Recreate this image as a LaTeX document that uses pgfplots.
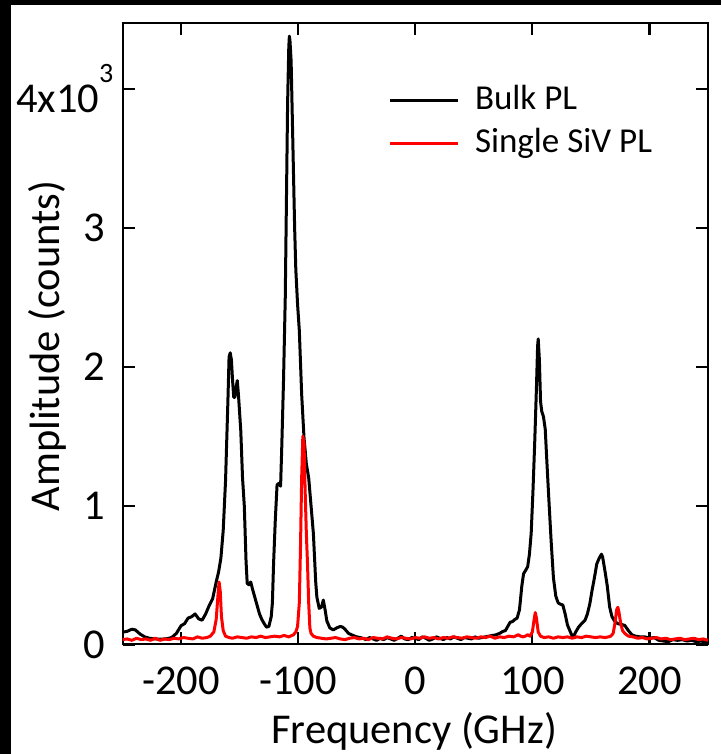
\documentclass[border=0pt]{standalone}
\usepackage{pgfplots}
\pgfplotsset{compat=1.18}
\usepackage{fontspec}
\setmainfont{Carlito}
\begin{document}
\begin{tikzpicture}[x=1pt,y=1pt]
\fill[black] (0,0) rectangle (721,754);
\fill[white] (11,0) rectangle (721,749);
\begin{axis}[
  at={(122.5pt,109.5pt)}, anchor=south west,
  scale only axis, width=585.5pt, height=621.8pt,
  xmin=-250, xmax=250, ymin=0, ymax=4477,
  axis line style={line width=2pt},
  tick align=inside, tick pos=both,
  major tick length=12pt,
  every tick/.style={line width=2.2pt, black},
  xtick={-200,-100,0,100,200},
  xticklabels={-200,-100,0,100,200},
  ytick={0,1000,2000,3000,4000},
  yticklabels={0,1,2,3,{4x10\raisebox{30pt}{\fontsize{28}{28}\selectfont 3}\hspace*{-8pt}}},
  tick label style={font=\fontsize{42.5}{50}\selectfont, inner sep=0pt},
  xticklabel style={yshift=-22.5pt},
  yticklabel style={xshift=-17pt},
  scaled y ticks=false,
  xlabel={Frequency (GHz)},
  ylabel={Amplitude (counts)},
  label style={font=\fontsize{42.5}{50}\selectfont, inner sep=0pt},
  xlabel style={at={(axis description cs:0.498,-0.16)}, anchor=base},
  ylabel style={at={(axis description cs:-0.107,0.48)}, anchor=base},
  legend style={draw=none, fill=none, font=\fontsize{35}{42}\selectfont,
    at={(axis description cs:0.4535,0.903)}, anchor=north west,
    inner sep=0pt, outer sep=0pt, row sep=8pt, column sep=16pt,
    nodes={inner sep=0pt, text height=26pt, text depth=9pt}},
  legend cell align=left,
  legend image code/.code={\draw[#1, line width=3pt] (0pt,0pt) -- (68pt,0pt);},
  clip=true,
]
\addplot[black, line width=3pt, line join=round] coordinates {
(-250,88)(-246,95)(-242,110)(-239,105)(-235,75)(-231,55)(-227,45)(-222,40)(-217,38)(-212,42)
(-208,50)(-204,80)(-200,135)(-197,150)(-194,190)(-191,200)(-188,220)(-185,185)(-182,175)(-179,220)
(-176,280)(-173,330)(-170,450)(-168,520)(-166,620)(-164,820)(-162,1180)(-160,1750)(-159,2070)(-158,2100)
(-157,2050)(-156,1900)(-155,1780)(-154,1780)(-153,1850)(-152,1900)(-151,1800)(-149,1540)(-147.5,1200)(-146,1000)
(-144.5,600)(-143.5,440)(-142,430)(-140.5,450)(-139,400)(-137,340)(-135,280)(-133,220)(-131,180)(-129,150)
(-127,125)(-125,130)(-123,200)(-122,300)(-121,580)(-119.5,900)(-118,1150)(-116.5,1160)(-115,1140)(-114,1420)
(-112.5,1900)(-111,2500)(-110,3200)(-109,3900)(-108,4300)(-107.5,4380)(-107,4350)(-106,4200)(-105,3800)(-104,3400)
(-103,3000)(-102,2700)(-100.5,2450)(-99,2260)(-97,1800)(-95,1490)(-93,1300)(-91,1200)(-89,1000)(-87,800)
(-85,450)(-84,340)(-82,260)(-80,270)(-78.5,320)(-77,250)(-75.5,170)(-73,120)(-70,105)(-67,120)
(-64,130)(-62,125)(-60,110)(-57,80)(-53,65)(-50,55)(-47,50)(-45,45)(-42,35)(-39,50)
(-36,40)(-33,30)(-30,45)(-27,35)(-24,50)(-21,40)(-18,30)(-15,45)(-12,60)(-9,40)
(-6,35)(-3,50)(0,45)(3,35)(6,55)(9,45)(12,30)(15,40)(18,55)(21,45)
(24,35)(27,50)(30,40)(33,55)(36,45)(39,35)(42,50)(45,45)(48,40)(51,55)
(54,45)(57,50)(60,55)(63,60)(66,65)(69,70)(72,80)(75,95)(77,100)(79,130)
(81,160)(83,165)(85,180)(87,190)(89,250)(91,420)(92.5,510)(94,530)(96,560)(97.5,650)
(99,800)(100.5,1100)(102,1450)(103.5,1850)(104.5,2150)(105,2200)(106,2050)(107,1750)(108,1680)(109.5,1640)
(111,1550)(112.5,1300)(114,1060)(116,750)(118,480)(120,350)(122,300)(124,290)(126,285)(128,220)
(130,140)(132,100)(134,60)(135,55)(137,90)(139.5,125)(142,150)(145,175)(147,220)(149,290)
(151,390)(153,480)(155,580)(157,620)(159,650)(160,630)(162,530)(164,420)(166,270)(168,200)
(170.5,165)(173,150)(176,145)(179,137)(182,100)(185,70)(188,60)(192,55)(196,55)(200,45)
(204,50)(208,30)(212,25)(216,20)(220,35)(224,30)(228,35)(232,25)(236,30)(240,20)
(244,25)(248,15)(250,15)
};
\addlegendentry{Bulk PL}
\addplot[red, line width=3pt, line join=round] coordinates {
(-250,35)(-246,40)(-242,30)(-238,45)(-234,35)(-230,40)(-226,30)(-222,45)(-218,30)(-214,40)
(-210,35)(-206,45)(-202,40)(-198,50)(-194,45)(-190,40)(-186,55)(-182,45)(-178,50)(-175,60)
(-172,90)(-170,180)(-168.5,350)(-167.5,450)(-166.5,380)(-165.5,200)(-164,100)(-162,60)(-159,50)(-156,45)
(-152,55)(-148,50)(-144,45)(-140,55)(-136,50)(-132,60)(-128,50)(-124,55)(-120,60)(-116,55)
(-112,65)(-108,55)(-104,70)(-102,90)(-100.5,130)(-99,300)(-98,700)(-97,1200)(-96,1500)(-95,1450)
(-94,1100)(-93,800)(-92,580)(-91,300)(-90,120)(-89,80)(-87,60)(-84,50)(-80,45)(-76,40)
(-72,45)(-68,50)(-64,40)(-60,35)(-56,45)(-52,50)(-48,40)(-44,45)(-40,35)(-36,50)
(-32,45)(-28,40)(-24,55)(-20,45)(-16,40)(-12,50)(-8,45)(-4,40)(0,50)(4,45)
(8,55)(12,45)(16,50)(20,40)(24,50)(28,45)(32,55)(36,50)(40,45)(44,55)
(48,50)(52,45)(56,55)(60,50)(64,60)(68,45)(72,55)(76,50)(80,60)(84,55)
(88,70)(90,60)(92,55)(94,60)(96,70)(98,60)(100,90)(101.5,180)(102.5,230)(103.5,190)
(105,90)(107,60)(110,50)(114,55)(118,45)(122,55)(126,50)(130,55)(134,45)(138,55)
(142,50)(146,60)(150,55)(154,50)(158,55)(162,50)(165,55)(167,60)(169,80)(170.5,150)
(172,250)(173,268)(174,230)(175.5,150)(177,100)(179,80)(182,60)(186,55)(190,45)(194,50)
(198,40)(202,45)(206,50)(210,40)(214,45)(218,35)(222,40)(226,45)(230,35)(234,40)
(238,45)(242,35)(246,40)(250,30)
};
\addlegendentry{Single SiV PL}
\end{axis}
\pgfresetboundingbox
\useasboundingbox (0,0) rectangle (721,754);
\end{tikzpicture}
\end{document}
